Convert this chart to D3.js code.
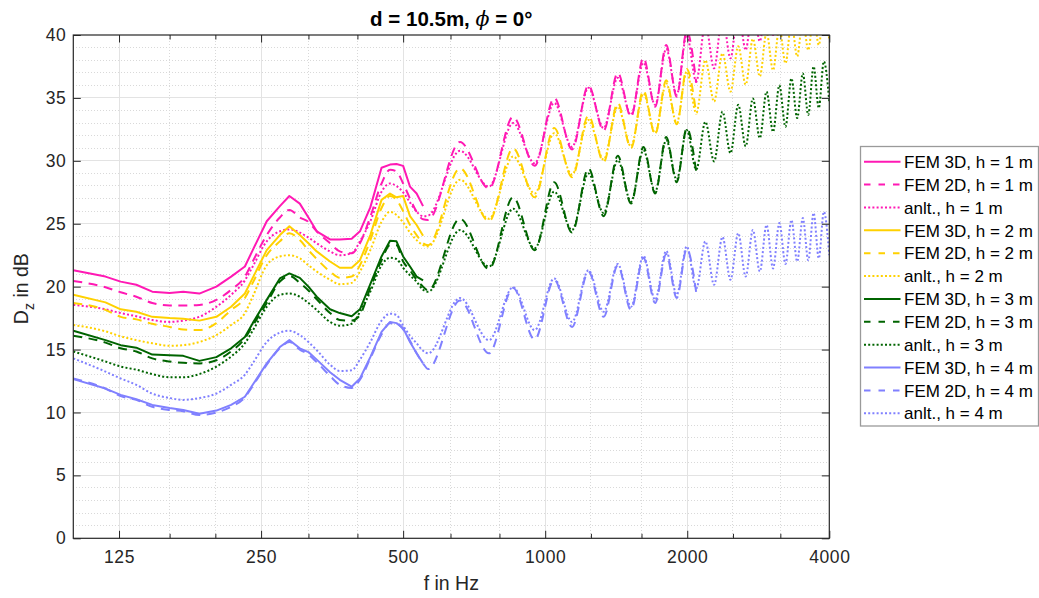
<!DOCTYPE html>
<html>
<head>
<meta charset="utf-8">
<script src="https://cdn.jsdelivr.net/npm/d3@7"></script>
<style>
    body { margin: 0; background: #fff; }
    svg { display: block; font-family: "Liberation Sans", Arial, sans-serif; }
</style>
</head>
<body>
<div id="chart"></div>
<script>
// frequency grids (Hz): dense FEM band, then the interference peaks/troughs
const fLow = [100, 117, 126, 136, 147, 160, 171, 185, 201, 216, 231, 240, 257, 274, 287, 302, 315, 328, 350, 367, 389, 405, 426, 450, 469, 484, 500, 517, 534, 551];
const fHigh = [565, 660, 760, 855, 950, 1045, 1140, 1235, 1330, 1425, 1520, 1615, 1710, 1805, 1900, 1995, 2090, 2185, 2280, 2375, 2470, 2565, 2660, 2755, 2850, 2945, 3040, 3135, 3230, 3325, 3420, 3515, 3610, 3705, 3800, 3895, 4000];

// h = 1 m
const fem3dH1 = [21.3, 20.8, 20.4, 20.15, 19.6, 19.5, 19.6, 19.45, 20.0, 20.8, 21.6, 22.9, 25.2, 26.4, 27.2, 26.6, 25.5, 24.4, 23.75, 23.75, 23.8, 24.4, 26.3, 29.45, 29.7, 29.75, 29.6, 27.95, 27.4, 26.4];
const fem2dH1Low = [20.45, 19.95, 19.55, 19.2, 18.7, 18.5, 18.5, 18.55, 18.95, 19.75, 20.8, 22.0, 24.1, 25.5, 26.1, 25.5, 25.15, 24.4, 23.45, 22.8, 22.65, 23.45, 25.55, 28.2, 29.3, 29.15, 28.2, 27.0, 25.95, 25.35];
const fem2dH1High = [25.3, 31.5, 27.8, 33.5, 29.6, 35.0, 30.9, 36.0, 32.4, 37.0, 33.5, 38.2, 34.3, 39.2, 35.1, 40.3, 36.2];
const anltH1Low = [18.55, 18.2, 17.9, 17.65, 17.35, 17.2, 17.3, 17.6, 18.4, 19.35, 20.5, 21.6, 23.6, 24.4, 24.55, 24.3, 23.9, 23.45, 22.8, 22.5, 22.65, 23.6, 25.2, 27.55, 28.2, 28.0, 27.5, 26.7, 25.95, 25.6];
const anltH1High = [25.65, 30.8, 27.95, 33.0, 29.8, 34.6, 31.1, 35.8, 32.6, 36.6, 33.65, 37.8, 34.45, 38.9, 35.25, 40.0, 36.3, 40.9, 37.35, 41.5, 38.15, 42.0, 38.8, 42.4, 39.5, 42.8, 40.0, 43.1, 40.4, 43.4, 40.8, 43.7, 41.1, 44.0, 41.4, 44.2, 41.7];

// h = 2 m
const fem3dH2 = [19.35, 18.75, 18.2, 18.0, 17.6, 17.5, 17.45, 17.3, 17.6, 18.4, 19.45, 20.7, 22.9, 24.1, 24.8, 24.1, 23.45, 22.8, 22.0, 21.5, 21.5, 22.1, 24.1, 26.9, 27.4, 27.1, 27.2, 25.6, 24.9, 24.05];
const fem2dH2Low = [18.7, 18.15, 17.6, 17.4, 17.05, 16.8, 16.6, 16.55, 17.1, 18.15, 19.1, 20.3, 22.5, 23.6, 24.25, 23.7, 22.9, 22.2, 21.2, 20.7, 20.8, 21.7, 23.7, 26.25, 27.2, 26.9, 26.0, 24.9, 24.1, 23.45];
const fem2dH2High = [23.3, 29.4, 25.2, 31.0, 27.1, 32.6, 28.7, 33.6, 29.9, 34.6, 31.0, 35.6, 32.1, 36.4, 32.9, 37.3, 33.7];
const anltH2Low = [16.95, 16.45, 16.05, 15.75, 15.5, 15.3, 15.35, 15.6, 16.15, 16.95, 17.9, 19.2, 21.7, 22.4, 22.5, 22.25, 21.7, 21.2, 20.55, 20.2, 20.3, 21.2, 22.9, 25.15, 25.95, 25.7, 25.1, 24.3, 23.7, 23.3];
const anltH2High = [23.2, 28.5, 25.4, 30.35, 27.4, 32.2, 28.9, 33.25, 30.1, 34.3, 31.15, 35.35, 32.2, 36.15, 33.0, 37.1, 33.8, 38.0, 34.7, 38.55, 35.5, 39.1, 36.05, 39.7, 36.7, 40.2, 37.2, 40.6, 37.75, 41.0, 38.3, 41.3, 38.8, 41.6, 39.2, 41.9, 39.6];

// h = 3 m
const fem3dH3 = [16.5, 15.75, 15.35, 15.15, 14.6, 14.55, 14.5, 14.1, 14.4, 15.1, 16.0, 17.1, 18.95, 20.65, 21.05, 20.7, 20.0, 19.2, 18.2, 17.9, 17.65, 18.2, 20.2, 22.4, 23.65, 23.6, 22.4, 21.6, 20.8, 20.5];
const fem2dH3Low = [16.1, 15.55, 15.1, 14.85, 14.3, 14.05, 13.95, 13.9, 14.15, 14.85, 15.9, 16.9, 18.7, 20.4, 20.85, 20.3, 19.7, 19.0, 17.9, 17.35, 17.3, 17.75, 19.9, 22.1, 23.3, 23.3, 22.0, 21.3, 20.55, 20.0];
const fem2dH3High = [19.7, 25.4, 21.4, 27.1, 22.9, 28.3, 24.3, 29.4, 25.6, 30.4, 26.6, 31.1, 27.4, 31.9, 28.3, 32.6, 29.1];
const anltH3Low = [14.85, 14.05, 13.65, 13.4, 13.05, 12.8, 12.8, 13.05, 13.65, 14.45, 15.5, 16.5, 18.4, 19.35, 19.45, 19.2, 18.7, 18.15, 17.2, 16.9, 17.05, 18.0, 19.6, 21.7, 22.3, 22.2, 21.5, 20.9, 20.4, 19.75];
const anltH3High = [19.6, 24.5, 21.6, 26.2, 23.05, 27.55, 24.5, 29.0, 25.85, 30.05, 26.75, 30.85, 27.55, 31.65, 28.5, 32.45, 29.3, 33.1, 29.95, 33.9, 30.6, 34.45, 31.15, 34.95, 31.8, 35.5, 32.3, 36.0, 32.7, 36.55, 33.4, 36.95, 33.65, 37.5, 34.2, 37.9, 34.7];

// h = 4 m
const fem3dH4 = [12.65, 11.9, 11.4, 11.05, 10.6, 10.35, 10.2, 9.9, 10.15, 10.6, 11.25, 12.2, 13.9, 15.2, 15.75, 15.1, 14.8, 14.2, 13.2, 12.6, 12.05, 12.7, 14.4, 16.4, 17.2, 17.1, 16.7, 15.6, 14.7, 13.9];
const fem2dH4Low = [12.7, 11.9, 11.3, 11.0, 10.45, 10.2, 10.1, 9.8, 10.0, 10.45, 11.2, 12.1, 13.8, 15.1, 15.6, 15.0, 14.6, 14.0, 12.9, 12.2, 11.95, 12.6, 14.3, 16.2, 17.1, 17.1, 16.6, 15.7, 14.7, 13.9];
const fem2dH4High = [13.45, 18.9, 14.7, 19.9, 15.8, 20.55, 16.8, 21.2, 17.6, 21.7, 18.15, 22.3, 18.7, 22.6, 19.1, 23.0, 19.5];
const anltH4Low = [14.3, 13.25, 12.7, 12.2, 11.5, 11.15, 11.0, 11.15, 11.5, 12.2, 13.0, 13.9, 15.6, 16.35, 16.5, 16.15, 15.6, 14.95, 13.8, 13.3, 13.35, 14.2, 15.6, 17.3, 17.85, 17.75, 16.9, 16.1, 15.5, 14.9];
const anltH4High = [14.7, 19.1, 15.75, 19.95, 16.55, 20.65, 17.2, 21.3, 18.0, 21.8, 18.4, 22.45, 18.95, 22.85, 19.35, 23.2, 19.85, 23.6, 20.15, 23.95, 20.55, 24.25, 20.8, 24.5, 21.2, 24.9, 21.45, 25.05, 21.8, 25.3, 22.0, 25.45, 22.1, 25.85, 22.25, 25.95, 22.5];

// axis ticks
const xTicks = [125, 250, 500, 1000, 2000, 4000];
const xMinor = [160, 200, 315, 400, 630, 800, 1250, 1600, 2500, 3150];
const yTicks = [0, 5, 10, 15, 20, 25, 30, 35, 40];

const heights = [1, 2, 3, 4];
const colors = ["#ff19b4", "#ffd100", "#006400", "#8080ff"];

function buildSeries() {
    const fFem2d = fLow.concat(fHigh.slice(0, 17));
    const fAnlt = fLow.concat(fHigh);
    const groups = [
        [fem3dH1, fem2dH1Low.concat(fem2dH1High), anltH1Low.concat(anltH1High)],
        [fem3dH2, fem2dH2Low.concat(fem2dH2High), anltH2Low.concat(anltH2High)],
        [fem3dH3, fem2dH3Low.concat(fem2dH3High), anltH3Low.concat(anltH3High)],
        [fem3dH4, fem2dH4Low.concat(fem2dH4High), anltH4Low.concat(anltH4High)]
    ];
    const out = [];
    groups.forEach((g, i) => {
        const h = heights[i];
        out.push({ label: `FEM 3D, h = ${h} m`, color: colors[i], kind: "solid",
            pts: fLow.map((f, j) => [f, g[0][j]]) });
        out.push({ label: `FEM 2D, h = ${h} m`, color: colors[i], kind: "dashed",
            pts: fFem2d.map((f, j) => [f, g[1][j]]) });
        out.push({ label: `anlt., h = ${h} m`, color: colors[i], kind: "dotted",
            pts: fAnlt.map((f, j) => [f, g[2][j]]) });
    });
    return out;
}

const dashFor = { solid: null, dashed: "9,6.5", dotted: "2,2.2" };

function drawChart() {
    const width = 1039;
    const height = 598;
    const plot = { left: 73.3, right: 829.3, top: 35, bottom: 538.3 };
    const ink = "#262626";

    const svg = d3.select("#chart")
        .append("svg")
        .attr("width", width)
        .attr("height", height);

    const x = d3.scaleLog().domain([100, 4000]).range([plot.left, plot.right]);
    const y = d3.scaleLinear().domain([0, 40]).range([plot.bottom, plot.top]);

    // minor grid (dotted)
    const grid = svg.append("g").attr("shape-rendering", "crispEdges");
    grid.selectAll("line.vminor")
        .data(xMinor)
        .join("line")
        .attr("x1", d => x(d)).attr("x2", d => x(d))
        .attr("y1", plot.top).attr("y2", plot.bottom)
        .attr("stroke", "#d9d9d9")
        .attr("stroke-dasharray", "1,2");
    grid.selectAll("line.hminor")
        .data(d3.range(1, 40).filter(v => v % 5 !== 0))
        .join("line")
        .attr("x1", plot.left).attr("x2", plot.right)
        .attr("y1", d => y(d)).attr("y2", d => y(d))
        .attr("stroke", "#d9d9d9")
        .attr("stroke-dasharray", "1,2");

    // major grid
    svg.append("g").attr("shape-rendering", "crispEdges")
        .selectAll("line")
        .data(xTicks.slice(0, -1))
        .join("line")
        .attr("x1", d => x(d)).attr("x2", d => x(d))
        .attr("y1", plot.top).attr("y2", plot.bottom)
        .attr("stroke", "#e3e3e3");
    svg.append("g").attr("shape-rendering", "crispEdges")
        .selectAll("line")
        .data(yTicks.slice(1, -1))
        .join("line")
        .attr("x1", plot.left).attr("x2", plot.right)
        .attr("y1", d => y(d)).attr("y2", d => y(d))
        .attr("stroke", "#e3e3e3");

    // curves
    svg.append("clipPath").attr("id", "clip")
        .append("rect")
        .attr("x", plot.left).attr("y", plot.top)
        .attr("width", plot.right - plot.left)
        .attr("height", plot.bottom - plot.top);

    const series = buildSeries();
    const lineGen = kind => d3.line()
        .x(d => x(d[0]))
        .y(d => y(d[1]))
        .curve(kind === "solid" ? d3.curveLinear : d3.curveMonotoneX);

    svg.append("g")
        .attr("clip-path", "url(#clip)")
        .selectAll("path")
        .data(series)
        .join("path")
        .attr("d", s => lineGen(s.kind)(s.pts))
        .attr("fill", "none")
        .attr("stroke", s => s.color)
        .attr("stroke-width", 2)
        .attr("stroke-linejoin", "round")
        .attr("stroke-dasharray", s => dashFor[s.kind]);

    // axes: inward ticks on all four sides
    const styleAxis = g => {
        g.select(".domain").remove();
        g.selectAll("line").attr("stroke", ink);
        g.selectAll("text")
            .attr("fill", ink)
            .style("font-size", "17.5px")
            .style("letter-spacing", "0.6px");
    };

    svg.append("g")
        .attr("transform", `translate(0,${plot.bottom})`)
        .call(d3.axisBottom(x).tickValues(xTicks).tickFormat(d3.format("d"))
            .tickSizeInner(-7.5).tickSizeOuter(0).tickPadding(12))
        .call(styleAxis);
    svg.append("g")
        .attr("transform", `translate(0,${plot.bottom})`)
        .call(d3.axisBottom(x).tickValues(xMinor).tickFormat("")
            .tickSizeInner(-4.5).tickSizeOuter(0))
        .call(styleAxis);
    svg.append("g")
        .attr("transform", `translate(0,${plot.top})`)
        .call(d3.axisTop(x).tickValues(xTicks).tickFormat("")
            .tickSizeInner(-7.5).tickSizeOuter(0))
        .call(styleAxis);
    svg.append("g")
        .attr("transform", `translate(0,${plot.top})`)
        .call(d3.axisTop(x).tickValues(xMinor).tickFormat("")
            .tickSizeInner(-4.5).tickSizeOuter(0))
        .call(styleAxis);
    svg.append("g")
        .attr("transform", `translate(${plot.left},0)`)
        .call(d3.axisLeft(y).tickValues(yTicks)
            .tickSizeInner(-7.5).tickSizeOuter(0).tickPadding(7))
        .call(styleAxis);
    svg.append("g")
        .attr("transform", `translate(${plot.right},0)`)
        .call(d3.axisRight(y).tickValues(yTicks).tickFormat("")
            .tickSizeInner(-7.5).tickSizeOuter(0))
        .call(styleAxis);

    svg.append("rect")
        .attr("x", plot.left).attr("y", plot.top)
        .attr("width", plot.right - plot.left)
        .attr("height", plot.bottom - plot.top)
        .attr("fill", "none")
        .attr("stroke", ink)
        .attr("stroke-width", 1.2);

    // title and labels
    const cx = (plot.left + plot.right) / 2;
    const title = svg.append("text")
        .attr("x", cx).attr("y", 26)
        .attr("text-anchor", "middle")
        .style("font-size", "20.5px")
        .style("font-weight", "bold")
        .attr("fill", "#000");
    title.append("tspan").text("d = 10.5m, ");
    title.append("tspan").text("\u03D5")
        .style("font-style", "italic")
        .style("font-weight", "normal")
        .style("font-family", "'DejaVu Serif', serif");
    title.append("tspan").text(" = 0°");

    svg.append("text")
        .attr("x", cx).attr("y", 590)
        .attr("text-anchor", "middle")
        .style("font-size", "19.5px")
        .attr("fill", ink)
        .text("f in Hz");

    const ylab = svg.append("text")
        .attr("transform", `translate(28,${(plot.top + plot.bottom) / 2 + 2}) rotate(-90)`)
        .attr("text-anchor", "middle")
        .style("font-size", "19.5px")
        .attr("fill", ink);
    ylab.append("tspan").text("D");
    ylab.append("tspan").text("z").attr("dy", 6).style("font-size", "14px");
    ylab.append("tspan").text(" in dB").attr("dy", -6);

    // legend
    const lg = svg.append("g");
    lg.append("rect")
        .attr("x", 860.5).attr("y", 146.5)
        .attr("width", 178).attr("height", 279.5)
        .attr("fill", "#fff")
        .attr("stroke", "#9a9a9a")
        .attr("stroke-width", 1.3);

    const rowY = i => 161.7 + i * 22.87;
    const items = lg.selectAll("g.item")
        .data(series)
        .join("g")
        .attr("transform", (d, i) => `translate(0,${rowY(i)})`);
    items.append("line")
        .attr("x1", 864).attr("x2", 900.5)
        .attr("stroke", d => d.color)
        .attr("stroke-width", 2)
        .attr("stroke-dasharray", d => d.kind === "dashed" ? "6.5,8" : dashFor[d.kind]);
    items.append("text")
        .attr("x", 904).attr("y", 6.2)
        .style("font-size", "17px")
        .attr("fill", "#000")
        .text(d => d.label);
}

document.addEventListener("DOMContentLoaded", drawChart);
</script>
</body>
</html>
